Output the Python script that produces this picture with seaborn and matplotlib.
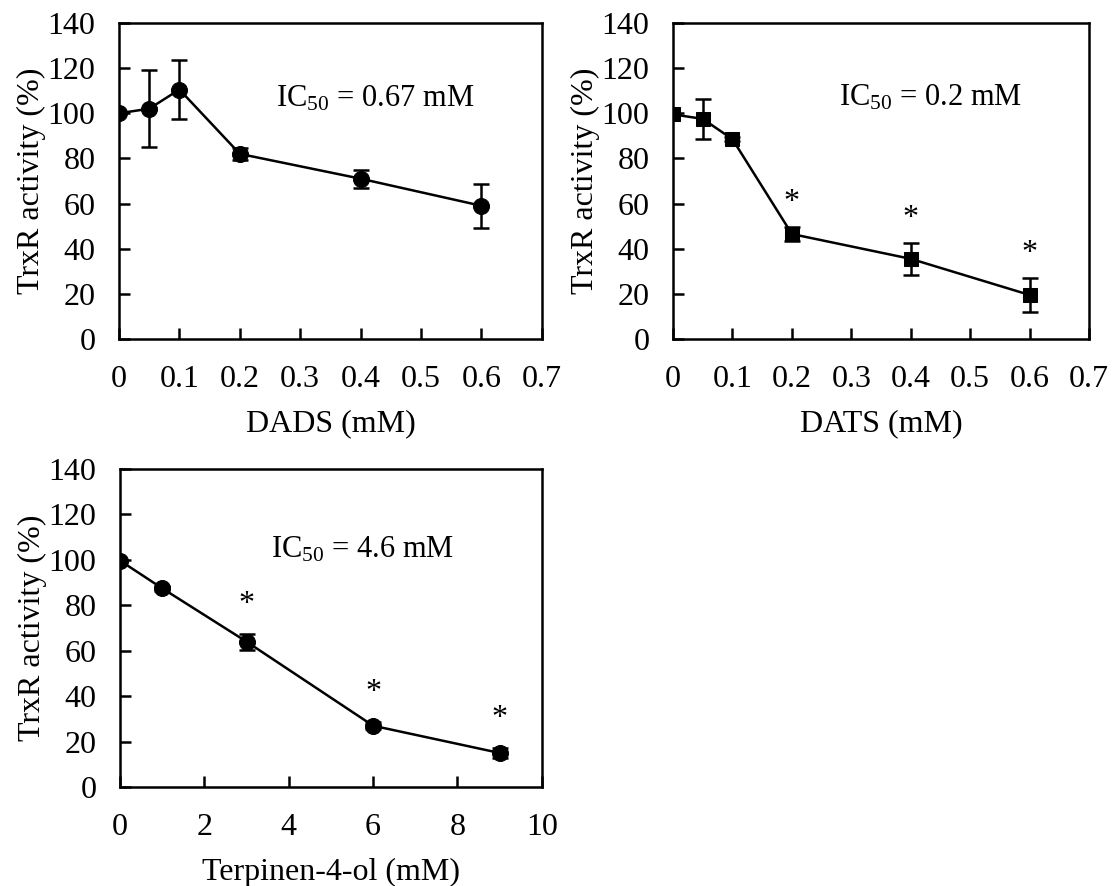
import matplotlib
matplotlib.use("Agg")
import matplotlib.pyplot as plt
import seaborn as sns
import pandas as pd

# DADS panel
dads_conc = [0, 0.05, 0.1, 0.2, 0.4, 0.6]
dads_act = [100, 102, 110.5, 82, 71, 59]
dads_err = [0, 17, 13, 2.5, 4, 9.7]

# DATS panel
dats_conc = [0, 0.05, 0.1, 0.2, 0.4, 0.6]
dats_act = [99.5, 97.5, 88.5, 46.5, 35.5, 19.5]
dats_err = [0, 8.7, 1, 3, 7, 7.4]
dats_sig = [0.2, 0.4, 0.6]

# Terpinen-4-ol panel
terp_conc = [0, 1, 3, 6, 9]
terp_act = [99.7, 87.5, 64, 27, 15]
terp_err = [0, 1, 3.5, 1.5, 2]
terp_sig = [3, 6, 9]

y_ticks = [0, 20, 40, 60, 80, 100, 120, 140]

sns.set_theme(style="ticks")
plt.rcParams["font.family"] = ["Liberation Serif", "DejaVu Serif"]
plt.rcParams["mathtext.fontset"] = "custom"
plt.rcParams["mathtext.rm"] = "Liberation Serif"
plt.rcParams["mathtext.it"] = "Liberation Serif:italic"
plt.rcParams["mathtext.default"] = "regular"
plt.rcParams["text.color"] = "black"
plt.rcParams["axes.labelcolor"] = "black"
plt.rcParams["xtick.color"] = "black"
plt.rcParams["ytick.color"] = "black"

FS = 23
FS_IC = 22
LW = 1.8
fig = plt.figure(figsize=(11.13, 8.86), dpi=100)
ax1 = fig.add_axes([0.1069, 0.6174, 0.3800, 0.3567])
ax2 = fig.add_axes([0.6047, 0.6174, 0.3738, 0.3567])
ax3 = fig.add_axes([0.1078, 0.1117, 0.3790, 0.3589])


def panel(ax, x, y, err, marker, msize, xlabel, xlim, xticks, xticklabels,
          ic_text, ic_pos, sig_x=None, sig_off=17):
    df = pd.DataFrame({"x": x, "y": y})
    ax.errorbar(x, y, yerr=err, fmt="none", ecolor="black", elinewidth=LW,
                capsize=6, capthick=LW, zorder=2)
    sns.lineplot(data=df, x="x", y="y", ax=ax, color="black", linewidth=LW,
                 marker=marker, markersize=msize, markeredgecolor="black",
                 markerfacecolor="black", zorder=3)
    ax.set_xlim(*xlim)
    ax.set_ylim(0, 140)
    ax.set_xticks(xticks)
    ax.set_xticklabels(xticklabels)
    ax.set_yticks(y_ticks)
    ax.set_xlabel(xlabel, fontsize=FS, labelpad=11)
    ax.set_ylabel("TrxR activity (%)", fontsize=FS, labelpad=1)
    ax.tick_params(axis="both", direction="in", length=8, width=LW,
                   labelsize=FS, colors="black")
    ax.tick_params(axis="x", pad=19)
    ax.tick_params(axis="y", pad=17)
    ax.tick_params(top=False, right=False)
    for s in ax.spines.values():
        s.set_visible(True)
        s.set_linewidth(LW)
        s.set_color("black")
    ax.text(ic_pos[0], ic_pos[1], ic_text, fontsize=FS_IC, ha="center",
            va="center")
    if sig_x is not None:
        lookup = dict(zip(x, [yy + ee for yy, ee in zip(y, err)]))
        for sx in sig_x:
            ax.text(sx, lookup[sx] + sig_off, "*", fontsize=FS, ha="center",
                    va="center")


panel(ax1, dads_conc, dads_act, dads_err, "o", 11.5, "DADS (mM)", (0, 0.7),
      [0, 0.1, 0.2, 0.3, 0.4, 0.5, 0.6, 0.7],
      ["0", "0.1", "0.2", "0.3", "0.4", "0.5", "0.6", "0.7"],
      "IC$_{50}$ = 0.67 mM", (0.424, 106.5))
panel(ax2, dats_conc, dats_act, dats_err, "s", 10.5, "DATS (mM)", (0, 0.7),
      [0, 0.1, 0.2, 0.3, 0.4, 0.5, 0.6, 0.7],
      ["0", "0.1", "0.2", "0.3", "0.4", "0.5", "0.6", "0.7"],
      "IC$_{50}$ = 0.2 mM", (0.433, 107), sig_x=dats_sig, sig_off=11)
panel(ax3, terp_conc, terp_act, terp_err, "o", 11.5, "Terpinen-4-ol (mM)",
      (0, 10), [0, 2, 4, 6, 8, 10], ["0", "2", "4", "6", "8", "10"],
      "IC$_{50}$ = 4.6 mM", (5.76, 104.5), sig_x=terp_sig, sig_off=13)

fig.savefig("out.png", dpi=100)
